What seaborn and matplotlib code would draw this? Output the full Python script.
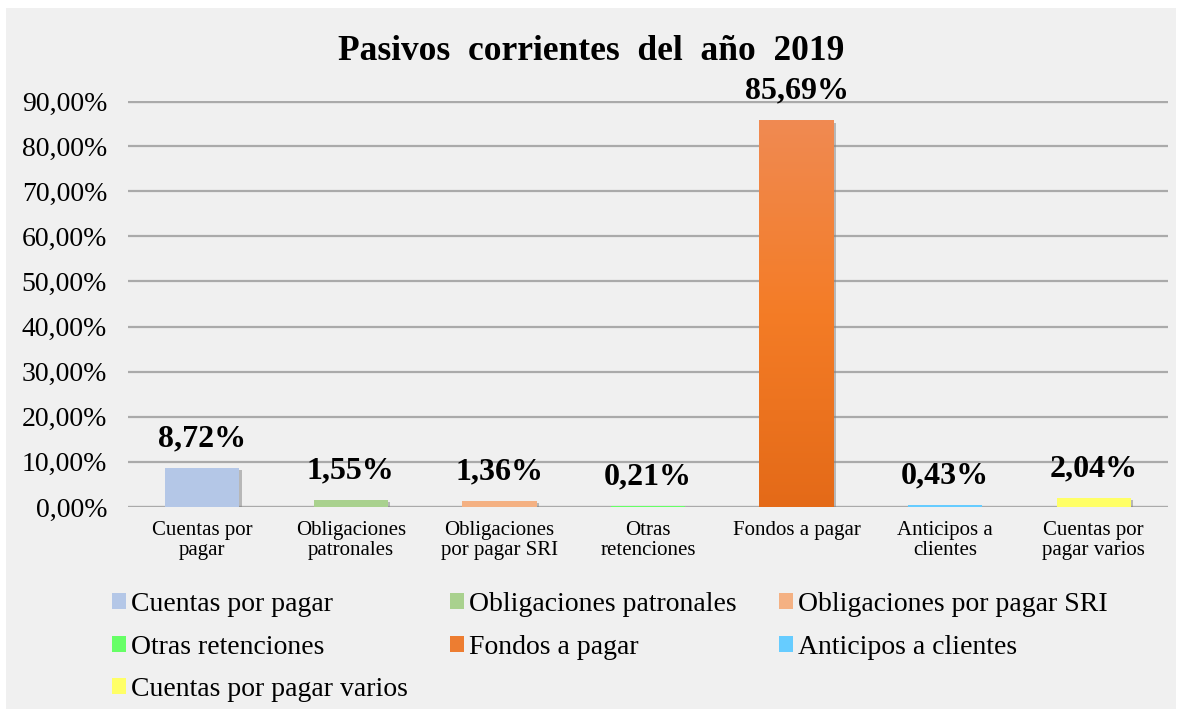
import numpy as np
import pandas as pd
import seaborn as sns
from matplotlib import pyplot as plt
from matplotlib.patches import Rectangle, Patch
from matplotlib import patheffects as pe
from matplotlib.colors import LinearSegmentedColormap

categorias = ['Cuentas por pagar', 'Obligaciones patronales', 'Obligaciones por pagar SRI',
              'Otras retenciones', 'Fondos a pagar', 'Anticipos a clientes',
              'Cuentas por pagar varios']
etiquetas_x = ['Cuentas por\npagar', 'Obligaciones\npatronales', 'Obligaciones\npor pagar SRI',
               'Otras\nretenciones', 'Fondos a pagar', 'Anticipos a\nclientes',
               'Cuentas por\npagar varios']
porcentajes = [8.72, 1.55, 1.36, 0.21, 85.69, 0.43, 2.04]
colores = ['#b4c7e7', '#a9d18e', '#f4b183', '#66ff66', '#ed7d31', '#66ccff', '#ffff66']
yticks = [0, 10, 20, 30, 40, 50, 60, 70, 80, 90]


def fmt(v, dec=2):
    return f"{v:.{dec}f}".replace('.', ',') + '%'


def main():
    sns.set_theme(style='white')
    plt.rcParams['font.family'] = ['Liberation Serif', 'DejaVu Serif']
    for k in ['text.color', 'axes.labelcolor', 'xtick.color', 'ytick.color']:
        plt.rcParams[k] = 'black'

    df = pd.DataFrame({'cat': categorias, 'val': porcentajes})

    fig = plt.figure(figsize=(11.82, 7.17), dpi=100, facecolor='white')
    fig.patches.append(Rectangle((6 / 1182, 8 / 717), 1170 / 1182, 701 / 717,
                                 transform=fig.transFigure, facecolor='#f0f0f0',
                                 edgecolor='none', zorder=-10))
    ax = fig.add_axes([128 / 1182, 210 / 717, 1040 / 1182, 406 / 717])
    ax.set_facecolor('none')

    sns.barplot(data=df, x='cat', y='val', hue='cat', palette=colores,
                dodge=False, legend=False, width=0.5, ax=ax, zorder=3,
                saturation=1, linewidth=0)

    shadow = [pe.SimplePatchShadow(offset=(1.5, -1.5), shadow_rgbFace='#808080', alpha=0.5),
              pe.Normal()]
    cmap = LinearSegmentedColormap.from_list('fondo', ['#e46a18', '#f47c26', '#f08a52'])
    for p in ax.patches:
        p.set_path_effects(shadow)
        x0 = p.get_x()
        xc = x0 + p.get_width() / 2
        idx = int(round(xc))
        if categorias[idx] == 'Fondos a pagar':
            grad = np.linspace(0, 1, 256).reshape(-1, 1)
            im = ax.imshow(grad, cmap=cmap, origin='lower', aspect='auto',
                           extent=[x0, x0 + p.get_width(), 0, p.get_height()], zorder=4)
            im.set_clip_path(p)
        ax.annotate(fmt(porcentajes[idx]), (xc, p.get_height()), xytext=(0, 21),
                    textcoords='offset points', ha='center', va='center',
                    fontsize=23, fontweight='bold', color='black', zorder=6)

    ax.set_xlim(-0.5, 6.5)
    ax.set_ylim(0, 90)
    ax.set_yticks(yticks)
    ax.set_yticklabels([fmt(v) for v in yticks], fontsize=20)
    ax.set_xticks(range(len(categorias)))
    ax.set_xticklabels(etiquetas_x, fontsize=15, linespacing=1.1)
    ax.tick_params(axis='both', length=0)
    ax.tick_params(axis='y', pad=15)
    ax.tick_params(axis='x', pad=10)
    ax.set_xlabel('')
    ax.set_ylabel('')
    for t in yticks:
        ax.axhline(t, color='#aaaaaa', lw=1.6 if t not in (0, 90) else 2.4, zorder=1)
    for s in ax.spines.values():
        s.set_visible(False)

    fig.text(0.5, 1 - 51 / 717, 'Pasivos  corrientes  del  año  2019', ha='center', va='center',
             fontsize=25.5, fontweight='bold')

    handles = [Patch(facecolor=c, edgecolor='none') for c in colores]
    orden = [0, 3, 6, 1, 4, 2, 5]
    fig.legend([handles[i] for i in orden], [categorias[i] for i in orden],
               ncol=3, loc='upper left', bbox_to_anchor=(112 / 1182, 1 - 592 / 717),
               frameon=False, fontsize=20, handlelength=0.5, handleheight=0.5,
               handletextpad=0.2, columnspacing=1.5, labelspacing=0.63,
               borderpad=0, borderaxespad=0)

    fig.savefig('out.png', dpi=100, facecolor='white')


if __name__ == '__main__':
    main()
